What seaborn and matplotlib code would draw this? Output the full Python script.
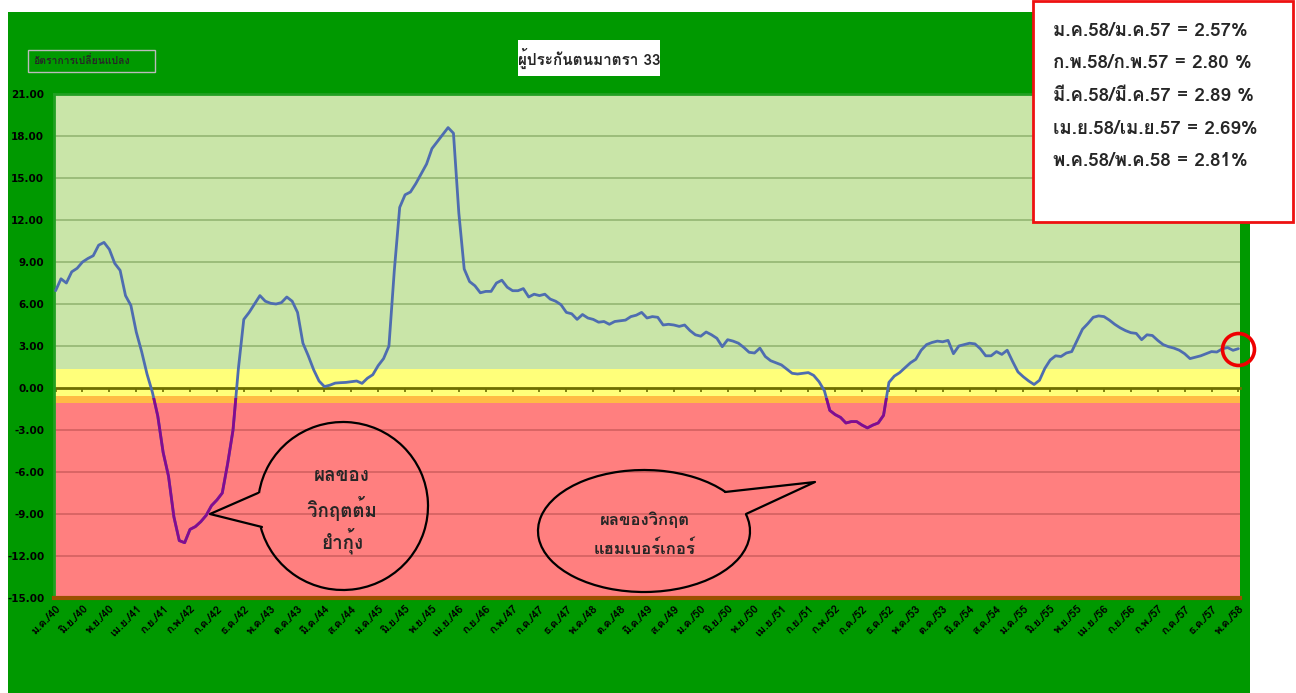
import numpy as np
import pandas as pd
import matplotlib
matplotlib.use('Agg')
import matplotlib.pyplot as plt
import seaborn as sns
from matplotlib import font_manager, ft2font
from matplotlib.patches import Rectangle, Arc

# ---------------------------------------------------------
# data: monthly % change, Jan/40 (1997) .. May/58 (2015)
values = [
    6.95, 7.8, 7.5, 8.3, 8.55, 9.0, 9.25, 9.45, 10.2, 10.4,
    9.9, 8.9, 8.4, 6.6, 5.9, 4.0, 2.6, 1.0, -0.3, -2.0,
    -4.6, -6.3, -9.2, -10.9, -11.05, -10.1, -9.9, -9.55, -9.1, -8.4,
    -8.0, -7.5, -5.4, -3.0, 1.4, 4.9, 5.4, 6.0, 6.6, 6.2,
    6.05, 6.0, 6.1, 6.5, 6.2, 5.4, 3.2, 2.3, 1.3, 0.5,
    0.1, 0.2, 0.35, 0.38, 0.4, 0.45, 0.5, 0.33, 0.7, 0.95,
    1.6, 2.1, 3.0, 8.4, 12.9, 13.8, 14.0, 14.6, 15.3, 16.0,
    17.1, 17.6, 18.1, 18.6, 18.2, 12.5, 8.5, 7.6, 7.3, 6.8,
    6.9, 6.9, 7.5, 7.7, 7.2, 6.95, 6.95, 7.1, 6.5, 6.7,
    6.6, 6.7, 6.35, 6.2, 5.95, 5.4, 5.3, 4.9, 5.25, 5.0,
    4.9, 4.7, 4.75, 4.55, 4.75, 4.8, 4.85, 5.1, 5.2, 5.4,
    5.0, 5.1, 5.05, 4.5, 4.55, 4.5, 4.4, 4.5, 4.1, 3.8,
    3.7, 4.0, 3.8, 3.55, 2.95, 3.45, 3.35, 3.2, 2.9, 2.55,
    2.5, 2.85, 2.25, 1.95, 1.8, 1.65, 1.35, 1.05, 1.0, 1.05,
    1.1, 0.9, 0.45, -0.2, -1.6, -1.9, -2.1, -2.5, -2.4, -2.4,
    -2.65, -2.85, -2.65, -2.5, -1.95, 0.4, 0.85, 1.1, 1.45, 1.8,
    2.05, 2.7, 3.1, 3.25, 3.35, 3.3, 3.4, 2.45, 3.0, 3.1,
    3.2, 3.15, 2.8, 2.3, 2.3, 2.6, 2.4, 2.7, 1.9, 1.15,
    0.8, 0.5, 0.25, 0.55, 1.4, 2.0, 2.3, 2.25, 2.5, 2.6,
    3.4, 4.2, 4.6, 5.05, 5.15, 5.1, 4.85, 4.55, 4.3, 4.1,
    3.95, 3.9, 3.45, 3.8, 3.75, 3.4, 3.1, 2.95, 2.85, 2.7,
    2.45, 2.1, 2.2, 2.3, 2.45, 2.6, 2.57, 2.80, 2.89, 2.69,
    2.81,
]

tick_labels = [
    'ม.ค./40', 'มิ.ย./40', 'พ.ย./40', 'เม.ย./41', 'ก.ย./41', 'ก.พ./42', 'ก.ค./42',
    'ธ.ค./42', 'พ.ค./43', 'ต.ค./43', 'มี.ค./44', 'ส.ค./44', 'ม.ค./45', 'มิ.ย./45',
    'พ.ย./45', 'เม.ย./46', 'ก.ย./46', 'ก.พ./47', 'ก.ค./47', 'ธ.ค./47', 'พ.ค./48',
    'ต.ค./48', 'มี.ค./49', 'ส.ค./49', 'ม.ค./50', 'มิ.ย./50', 'พ.ย./50', 'เม.ย./51',
    'ก.ย./51', 'ก.พ./52', 'ก.ค./52', 'ธ.ค./52', 'พ.ค./53', 'ต.ค./53', 'มี.ค./54',
    'ส.ค./54', 'ม.ค./55', 'มิ.ย./55', 'พ.ย./55', 'เม.ย./56', 'ก.ย./56', 'ก.พ./57',
    'ก.ค./57', 'ธ.ค./57', 'พ.ค./58',
]

box_lines = [
    'ม.ค.58/ม.ค.57 = 2.57%',
    'ก.พ.58/ก.พ.57 = 2.80 %',
    'มี.ค.58/มี.ค.57 = 2.89 %',
    'เม.ย.58/เม.ย.57 = 2.69%',
    'พ.ค.58/พ.ค.58 = 2.81%',
]

title = 'ผู้ประกันตนมาตรา 33'
legend_label = 'อัตราการเปลี่ยนแปลง'
note_tomyum = 'ผลของ\nวิกฤตต้ม\nยำกุ้ง'
note_hamburger = 'ผลของวิกฤต\nแฮมเบอร์เกอร์'


def thai_font():
    # pick an installed family that has Thai glyphs
    for f in font_manager.fontManager.ttflist:
        try:
            if 0x0E01 in ft2font.FT2Font(f.fname).get_charmap():
                return f.name
        except Exception:
            pass
    return 'DejaVu Sans'


sns.set_style('white')
TH = thai_font()
plt.rcParams['font.family'] = [TH, 'DejaVu Sans']

df = pd.DataFrame({'month': np.arange(len(values)), 'change': values})

W, H = 1296, 693
fig = plt.figure(figsize=(W / 100, H / 100), dpi=100, facecolor='white')

# green chart background
fig.add_artist(Rectangle((8 / W, 0), (1250 - 8) / W, (H - 12) / H,
                         transform=fig.transFigure, facecolor='#009900',
                         edgecolor='none', zorder=-5))

ax = fig.add_axes([54 / W, 1 - 598 / H, (1240 - 54) / W, (598 - 94) / H])
ax.set_facecolor('#C9E5A8')

# coloured bands
ax.axhspan(-0.57, 1.33, color='#FFFF7A', zorder=0, lw=0)
ax.axhspan(-1.05, -0.57, color='#FFBB44', zorder=0, lw=0)
ax.axhspan(-15, -1.05, color='#FF7F7F', zorder=0, lw=0)

yticks = np.arange(-15, 22, 3)
for yv in yticks:
    if yv > 1:
        ax.axhline(yv, color='#8FB26E', lw=1.1, zorder=1)
    elif yv < -1:
        ax.axhline(yv, color='#D05E5E', lw=1.1, zorder=1)

sns.lineplot(data=df, x='month', y='change', ax=ax, color='#4E6DB0', lw=2.0, zorder=3)
sns.lineplot(data=df, x='month', y='change', ax=ax, color='#850A8F', lw=2.0, zorder=4)
ax.lines[-1].set_clip_path(Rectangle((-5, -16), 240, 15.3, transform=ax.transData))

# red circle on the latest value
ax.plot(df['month'].iloc[-1:], df['change'].iloc[-1:], 'o', ms=23, mfc='none',
        mec='#EE0000', mew=2.6, zorder=6, clip_on=False)

ax.set_xlim(-0.3, len(values) - 1 + 0.3)
ax.set_ylim(-15, 21)
ax.set_xlabel('')
ax.set_ylabel('')

ax.set_yticks(yticks)
ax.set_yticklabels([f'{v:.2f}' for v in yticks], fontsize=7.5, fontweight='bold',
                   family='DejaVu Sans')
xt = np.arange(0, len(values), 5)
ax.set_xticks(xt)
ax.set_xticklabels(tick_labels, rotation=45, ha='right', rotation_mode='anchor',
                   fontsize=8, fontweight='bold')
ax.tick_params(axis='both', length=0, pad=4, colors='black')
ax.tick_params(axis='y', pad=7)

ax.spines['right'].set_visible(False)
ax.spines['left'].set_color('#22A022')
ax.spines['left'].set_linewidth(2)
ax.spines['top'].set_color('#22A022')
ax.spines['top'].set_linewidth(2)
ax.spines['bottom'].set_color('#9A5000')
ax.spines['bottom'].set_linewidth(3)

# category axis crossing at zero
sec = ax.secondary_xaxis(15 / 36)
sec.set_xticks(xt)
sec.set_xticklabels([])
sec.tick_params(direction='out', length=3, width=1.2, color='#6E6E00')
sec.spines['bottom'].set_color('#6E6E00')
sec.spines['bottom'].set_linewidth(2)

# overlay in pixel coordinates (y down) for boxes and callouts
ov = fig.add_axes([0, 0, 1, 1], zorder=10)
ov.set_xlim(0, W)
ov.set_ylim(H, 0)
ov.axis('off')
ov.patch.set_alpha(0)

ov.add_patch(Rectangle((28, 50), 127, 22, facecolor='none', edgecolor='#BBBBBB', lw=1))
ov.text(33, 61, legend_label, fontsize=7.5, fontweight='bold', va='center', ha='left')

ov.add_patch(Rectangle((518, 40), 142, 36, facecolor='white', edgecolor='none'))
ov.text(589, 58, title, fontsize=11, fontweight='bold', va='center', ha='center')

ov.add_patch(Rectangle((1033, 1), 260, 221, facecolor='white', edgecolor='#EE1111', lw=2))
for i, line in enumerate(box_lines):
    ov.text(1053, 31 + i * 32.5, line, fontsize=13.5, fontweight='bold', va='center', ha='left')

# speech bubble 1 (angles are mirrored because y runs down)
ov.add_patch(Arc((343, 506), 170, 168, theta1=188.7, theta2=165.5, color='black', lw=1.6))
ov.plot([258, 210, 262], [493, 514, 527], color='black', lw=1.6)
for i, line in enumerate(note_tomyum.split('\n')):
    ov.text(342, 476 + i * 32.5, line, fontsize=13.5, fontweight='bold', ha='center', va='center')

# speech bubble 2
ov.add_patch(Arc((644, 531), 212, 122, theta1=350.5, theta2=334.3, color='black', lw=1.6))
ov.plot([725, 815, 746], [492, 482, 514], color='black', lw=1.6)
for i, line in enumerate(note_hamburger.split('\n')):
    ov.text(645, 520 + i * 28, line, fontsize=12, fontweight='bold', ha='center', va='center')

plt.savefig('out.png', dpi=100, facecolor='white')
